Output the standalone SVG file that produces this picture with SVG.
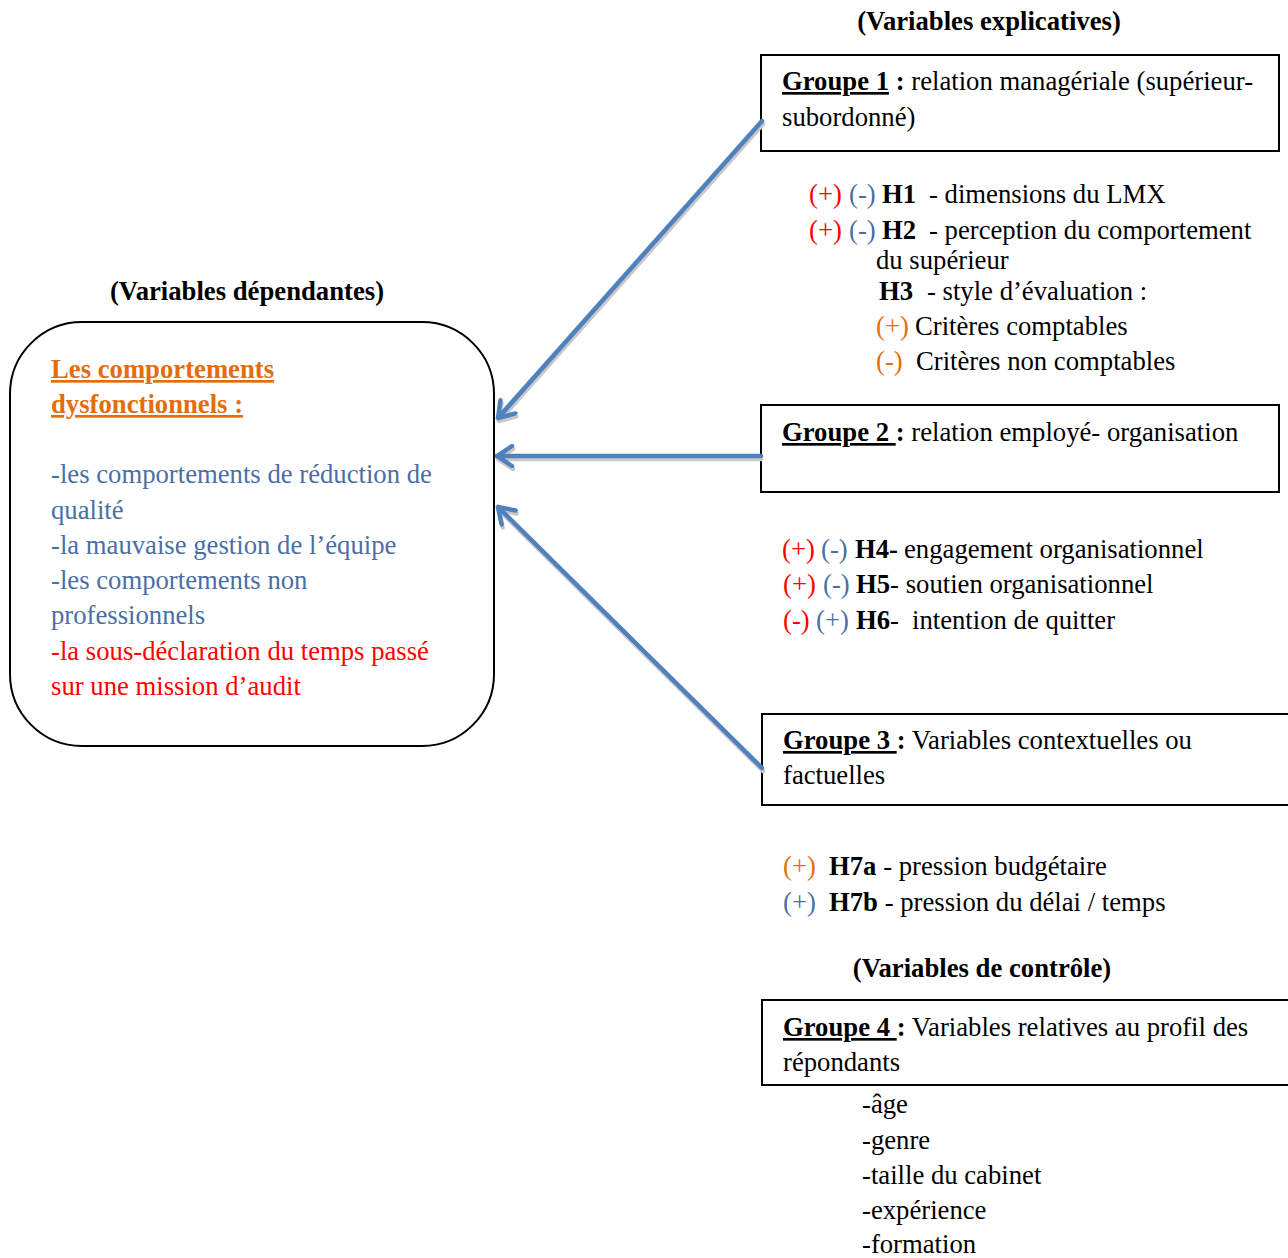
<svg xmlns="http://www.w3.org/2000/svg" width="1288" height="1258" viewBox="0 0 1288 1258">
<style>
text{font-family:"Liberation Serif","Times New Roman",serif;font-size:26.7px;fill:#000}
.b{font-weight:bold}
.u{text-decoration:underline}
.red{fill:#FF0000}
.blue{fill:#4A6FA5}
.org{fill:#E46C0A}
.box{fill:#fff;stroke:#000;stroke-width:2}
.arr{fill:none;stroke:#4F81BD;stroke-width:4.5;stroke-linecap:round;stroke-linejoin:round}
.sh{fill:none;stroke:#C8C8C8;stroke-width:4.5;stroke-linecap:round;stroke-linejoin:round}
</style>
<defs>
<marker id="ah" viewBox="-18 -12 20 24" refX="0" refY="0" markerWidth="20" markerHeight="24" markerUnits="userSpaceOnUse" orient="auto">
<polyline points="-15,-10 0,0 -15,10" fill="none" stroke="#4F81BD" stroke-width="4.5" stroke-linecap="round" stroke-linejoin="round"/>
</marker>
<marker id="ahs" viewBox="-18 -12 20 24" refX="0" refY="0" markerWidth="20" markerHeight="24" markerUnits="userSpaceOnUse" orient="auto">
<polyline points="-15,-10 0,0 -15,10" fill="none" stroke="#C8C8C8" stroke-width="4.5" stroke-linecap="round" stroke-linejoin="round"/>
</marker>
</defs>

<text class="b" x="989" y="30" text-anchor="middle">(Variables explicatives)</text>
<text class="b" x="247" y="300" text-anchor="middle">(Variables dépendantes)</text>
<text class="b" x="982" y="977" text-anchor="middle">(Variables de contrôle)</text>

<g id="dependent">
<rect class="box" x="10" y="322" width="484" height="424" rx="72" ry="72"/>
<text class="b org u" x="51" y="378">Les comportements</text>
<text class="b org" x="51" y="413"><tspan class="u">dysfonctionnels :</tspan></text>
<text class="blue" x="51" y="483">-les comportements de réduction de</text>
<text class="blue" x="51" y="519">qualité</text>
<text class="blue" x="51" y="554">-la mauvaise gestion de l’équipe</text>
<text class="blue" x="51" y="589">-les comportements non</text>
<text class="blue" x="51" y="624">professionnels</text>
<text class="red" x="51" y="660">-la sous-déclaration du temps passé</text>
<text class="red" x="51" y="695">sur une mission d’audit</text>
</g>

<g id="groupe1">
<rect class="box" x="761" y="55" width="518" height="96"/>
<text x="782" y="90"><tspan class="b u">Groupe 1</tspan><tspan class="b"> :</tspan> relation managériale (supérieur-</text>
<text x="782" y="126">subordonné)</text>
</g>

<g id="hyp1">
<text x="809" y="203"><tspan class="red">(+)</tspan><tspan class="blue" x="849">(-)</tspan><tspan class="b" x="882">H1</tspan><tspan x="929">- dimensions du LMX</tspan></text>
<text x="809" y="239"><tspan class="red">(+)</tspan><tspan class="blue" x="849">(-)</tspan><tspan class="b" x="882">H2</tspan><tspan x="929">- perception du comportement</tspan></text>
<text x="876" y="269">du supérieur</text>
<text x="879" y="300"><tspan class="b">H3</tspan><tspan x="927">- style d’évaluation :</tspan></text>
<text x="876" y="335"><tspan class="org">(+)</tspan><tspan x="915">Critères comptables</tspan></text>
<text x="876" y="370"><tspan class="org">(-)</tspan><tspan x="916">Critères non comptables</tspan></text>
</g>

<g id="groupe2">
<rect class="box" x="761" y="405" width="518" height="87"/>
<text x="782" y="441"><tspan class="b u">Groupe 2 </tspan><tspan class="b">:</tspan> relation employé- organisation</text>
</g>

<g id="hyp2">
<text x="782" y="558"><tspan class="red">(+)</tspan><tspan class="blue" x="821">(-)</tspan><tspan class="b" x="855">H4-</tspan><tspan x="904">engagement organisationnel</tspan></text>
<text x="783" y="593"><tspan class="red">(+)</tspan><tspan class="blue" x="823">(-)</tspan><tspan class="b" x="856">H5</tspan><tspan>- soutien organisationnel</tspan></text>
<text x="783" y="629"><tspan class="red">(-)</tspan><tspan class="blue" x="816">(+)</tspan><tspan class="b" x="856">H6</tspan><tspan>-</tspan><tspan x="912">intention de quitter</tspan></text>
</g>

<g id="groupe3">
<rect class="box" x="762" y="714" width="530" height="91"/>
<text x="783" y="749"><tspan class="b u">Groupe 3 </tspan><tspan class="b">:</tspan> Variables contextuelles ou</text>
<text x="783" y="784">factuelles</text>
</g>

<g id="hyp3">
<text x="783" y="875"><tspan class="org">(+)</tspan><tspan class="b" x="829">H7a</tspan><tspan> - pression budgétaire</tspan></text>
<text x="783" y="911"><tspan class="blue">(+)</tspan><tspan class="b" x="829">H7b</tspan><tspan> - pression du délai / temps</tspan></text>
</g>

<g id="groupe4">
<rect class="box" x="762" y="1000" width="530" height="85"/>
<text x="783" y="1036"><tspan class="b u">Groupe 4 </tspan><tspan class="b">:</tspan> Variables relatives au profil des</text>
<text x="783" y="1071">répondants</text>
<text x="862" y="1113">-âge</text>
<text x="862" y="1149">-genre</text>
<text x="862" y="1184">-taille du cabinet</text>
<text x="862" y="1219">-expérience</text>
<text x="862" y="1253">-formation</text>
</g>

<g id="connectors">
<path class="sh" d="M763,124 L499,421" marker-end="url(#ahs)"/>
<path class="sh" d="M761,459 L498,459" marker-end="url(#ahs)"/>
<path class="sh" d="M763,771 L499,510" marker-end="url(#ahs)"/>
<path class="arr" d="M762,121 L498,418" marker-end="url(#ah)"/>
<path class="arr" d="M761,456 L497,456" marker-end="url(#ah)"/>
<path class="arr" d="M762,768 L498,507" marker-end="url(#ah)"/>
</g>
</svg>
